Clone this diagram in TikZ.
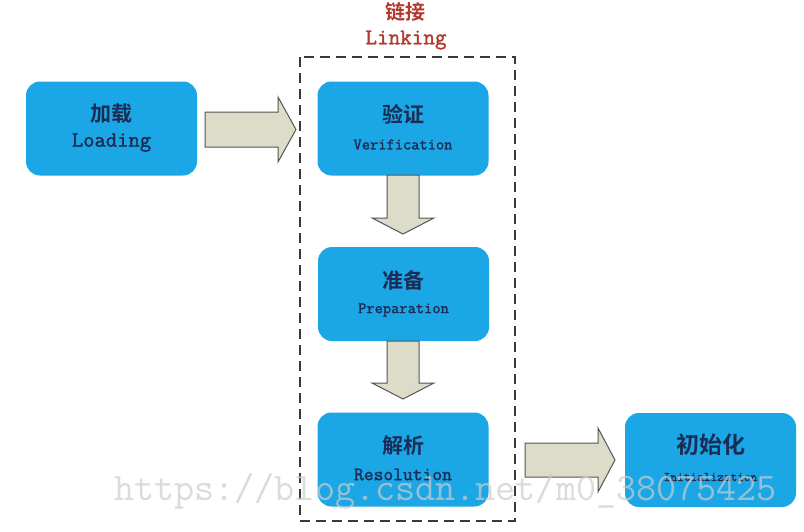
\documentclass[tikz,border=0pt]{standalone}
\usepackage{fontspec}
\newfontfamily\cjk{Noto Sans CJK SC}[BoldFont={Noto Sans CJK SC Bold}]
\newfontfamily\mono{Latin Modern Mono}[FakeBold=1.6]
\newfontfamily\wmfont{Latin Modern Mono}
\definecolor{boxblue}{HTML}{1BA6E6}
\definecolor{txtnavy}{HTML}{1B2C55}
\definecolor{arrfill}{HTML}{DCDCC8}
\definecolor{arrline}{HTML}{555555}
\definecolor{linkred}{HTML}{B03A2E}
\definecolor{dashgray}{HTML}{3A3A3A}
\tikzset{
  stagebox/.style={draw=none, fill=boxblue, rounded corners=14pt, minimum width=171pt, minimum height=94pt, inner sep=0pt},
  zhtext/.style={text=txtnavy, font=\cjk\bfseries\fontsize{21}{24}\selectfont, inner sep=0pt},
  entext/.style={text=txtnavy, font=\mono\fontsize{16}{18}\selectfont, inner sep=0pt},
  blockarrow/.style={draw=arrline, fill=arrfill, line width=1pt, line join=miter},
  linkbox/.style={draw=dashgray, line width=2.2pt, dash pattern=on 10pt off 6pt},
  wm/.style={text=black!20, text opacity=0.7, font=\wmfont\fontsize{39}{42}\selectfont, inner sep=0pt}
}
\begin{document}
\begin{tikzpicture}[x=1pt,y=-1pt]
\useasboundingbox (0,0) rectangle (804,531);
\fill[white] (0,0) rectangle (804,531);
% linking group
\draw[linkbox] (300,57) rectangle (515,521);
\node[text=linkred, font=\cjk\bfseries\fontsize{20}{22}\selectfont, inner sep=0pt] (lzh) at (405,12) {链接};
\node[text=linkred, font=\mono\fontsize{22.5}{24}\selectfont, inner sep=0pt] (len) at (406,40) {Linking};
% boxes
\node[stagebox] (load) at (111.5,128.5) {};
\node[stagebox] (ver) at (403,128.5) {};
\node[stagebox] (prep) at (403.5,294) {};
\node[stagebox] (res) at (403,459.5) {};
\node[stagebox] (init) at (710.5,460) {};
% texts
\node[zhtext] (t1) at ([yshift=15pt]load.center) {加载};
\node[entext, font=\mono\fontsize{22}{24}\selectfont] (e1) at ([yshift=-14pt]load.center) {Loading};
\node[zhtext] (t2) at ([yshift=14pt]ver.center) {验证};
\node[entext] (e2) at ([yshift=-16pt]ver.center) {Verification};
\node[zhtext] (t3) at ([yshift=14pt]prep.center) {准备};
\node[entext] (e3) at ([yshift=-16pt]prep.center) {Preparation};
\node[zhtext] (t4) at ([yshift=14pt]res.center) {解析};
\node[entext, font=\mono\fontsize{19}{21}\selectfont] (e4) at ([yshift=-15pt]res.center) {Resolution};
\node[zhtext, font=\cjk\bfseries\fontsize{23}{26}\selectfont] (t5) at ([yshift=15pt]init.center) {初始化};
\node[entext, font=\mono\fontsize{13}{15}\selectfont] (e5) at ([yshift=-17pt]init.center) {Initialization};
% block arrows
\draw[blockarrow] (205,112) -- (278,112) -- (278,97) -- (296,129.5) -- (278,162) -- (278,147) -- (205,147) -- cycle;
\draw[blockarrow] (387,175) -- (419,175) -- (419,218) -- (434,218) -- (403,234) -- (372,218) -- (387,218) -- cycle;
\draw[blockarrow] (387,341) -- (419,341) -- (419,383) -- (434,383) -- (403,399) -- (372,383) -- (387,383) -- cycle;
\draw[blockarrow] (525,443) -- (598,443) -- (598,428) -- (615,460) -- (598,492) -- (598,477) -- (525,477) -- cycle;
% watermark
\node[wm, anchor=base west] (wmark) at (114,500) {https://blog.csdn.net/m0\_38075425};
\end{tikzpicture}
\end{document}
